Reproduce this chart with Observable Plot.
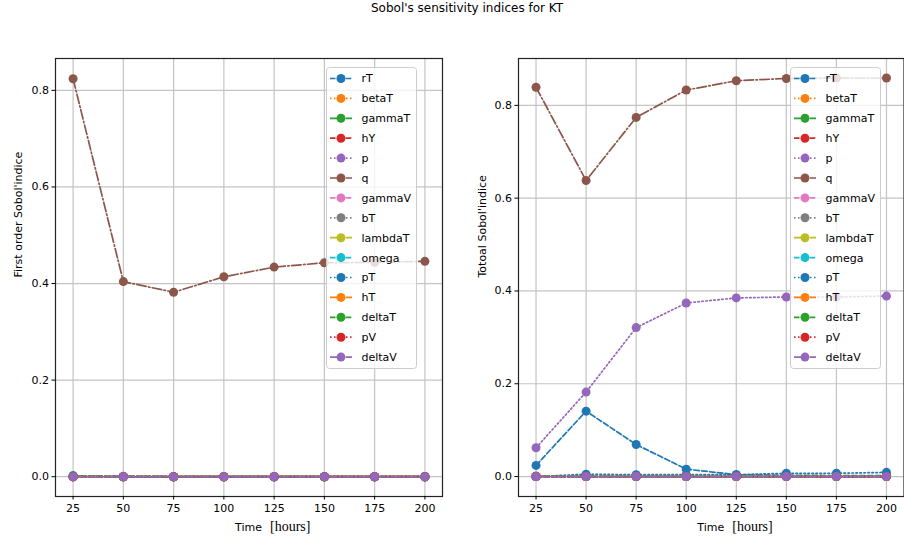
<!DOCTYPE html>
<html><head><meta charset="utf-8">
<script src="https://cdn.jsdelivr.net/npm/d3@7"></script>
<script src="https://cdn.jsdelivr.net/npm/@observablehq/plot@0.6"></script>
<style>
body{margin:0;background:#fff;}
#root{position:relative;width:904px;height:543px;overflow:hidden;font-family:"DejaVu Sans",sans-serif;}
#root > *{position:absolute;}
</style></head><body><div id="root"></div>
<script>
const titleText = "Sobol's sensitivity indices for KT";
const times = [25, 50, 75, 100, 125, 150, 175, 200];
const names = ["rT","betaT","gammaT","hY","p","q","gammaV","bT","lambdaT","omega","pT","hT","deltaT","pV","deltaV"];
const yTicks = [0, 0.2, 0.4, 0.6, 0.8];
const palette = ["#1f77b4","#ff7f0e","#2ca02c","#d62728","#9467bd","#8c564b","#e377c2","#7f7f7f","#bcbd22","#17becf"];

// First order indices, one row per parameter (same order as names)
const firstOrderValues = [
  [0.002, 0.001, 0, 0, 0, 0, 0, 0],
  [0, 0, 0, 0, 0, 0, 0, 0],
  [0.002, 0, 0, 0, 0, 0, 0, 0],
  [0, 0, 0, 0, 0, 0, 0, 0],
  [0.001, 0, 0, 0, 0, 0, 0, 0],
  [0.824, 0.404, 0.382, 0.414, 0.434, 0.443, 0.444, 0.446],
  [0, 0, 0, 0, 0, 0, 0, 0],
  [0, 0, 0, 0, 0, 0, 0, 0],
  [0, 0, 0, 0, 0, 0, 0, 0],
  [0, 0, 0, 0, 0, 0, 0, 0],
  [0, 0, 0, 0, 0, 0, 0, 0],
  [0, 0, 0, 0, 0, 0, 0, 0],
  [0.001, 0, 0, 0, 0, 0, 0, 0],
  [0, 0, 0, 0, 0, 0, 0, 0],
  [0, 0, 0, 0, 0, 0, 0, 0]
];
// Total indices
const totalValues = [
  [0.024, 0.141, 0.069, 0.016, 0.004, 0.003, 0.002, 0.002],
  [0, 0, 0, 0, 0, 0, 0, 0],
  [0.001, 0.001, 0.001, 0, 0, 0, 0, 0],
  [0, 0, 0, 0, 0, 0, 0, 0],
  [0.062, 0.182, 0.321, 0.374, 0.385, 0.387, 0.387, 0.389],
  [0.839, 0.638, 0.774, 0.833, 0.853, 0.858, 0.859, 0.859],
  [0, 0, 0, 0, 0, 0, 0, 0],
  [0, 0, 0, 0, 0, 0, 0, 0],
  [0, 0, 0, 0, 0, 0, 0, 0],
  [0, 0, 0, 0, 0, 0, 0, 0],
  [0, 0.005, 0.004, 0.004, 0.004, 0.007, 0.007, 0.009],
  [0, 0, 0, 0, 0, 0, 0, 0],
  [0, 0, 0, 0, 0, 0, 0, 0],
  [0, 0, 0, 0, 0, 0, 0, 0],
  [0, 0, 0, 0, 0, 0, 0, 0]
];

const dashes = ["5.5,2.4", "1.5,2.5", "9.6,2.4,1.5,2.4"];
const colorOf = i => palette[i % 10];
const dashOf = i => dashes[i % 3];

const root = document.getElementById("root");

function makePanel(values, yLabel, yDomain, left, width, marginLeft, marginRight, labelDx) {
  const marks = [
    Plot.gridX(times, {stroke: "#c4c4c4", strokeOpacity: 1, strokeWidth: 1.2}),
    Plot.gridY(yTicks, {stroke: "#c4c4c4", strokeOpacity: 1, strokeWidth: 1.2})
  ];
  names.forEach((n, i) => {
    const d = times.map((t, j) => ({t, v: values[i][j], name: n}));
    marks.push(Plot.line(d, {x: "t", y: "v", stroke: colorOf(i), strokeWidth: 1.7, strokeDasharray: dashOf(i)}));
    marks.push(Plot.dot(d, {x: "t", y: "v", fill: colorOf(i), r: 4.5}));
  });
  marks.push(Plot.frame({stroke: "#222", strokeWidth: 1.2}));
  marks.push(Plot.axisX({ticks: times, tickSize: 3.5, tickPadding: 4, label: null, fontSize: 11}));
  marks.push(Plot.axisY({ticks: yTicks, tickFormat: d3.format(".1f"), tickSize: 3.5, tickPadding: 3, label: null, fontSize: 11}));
  marks.push(Plot.text(["Time"], {frameAnchor: "bottom", textAnchor: "start", dx: -14, dy: 31, lineAnchor: "middle", fontSize: 11, fill: "#000"}));
  marks.push(Plot.text(["[hours]"], {frameAnchor: "bottom", textAnchor: "start", dx: 21, dy: 30, lineAnchor: "middle", fontSize: 14, fontFamily: "Liberation Serif", fill: "#000"}));
  marks.push(Plot.text([yLabel], {frameAnchor: "left", rotate: -90, dx: labelDx, fontSize: 11, fill: "#000"}));
  const svg = Plot.plot({
    width, height: 518,
    marginTop: 33, marginBottom: 47, marginLeft, marginRight,
    x: {domain: [16.25, 208.75]},
    y: {domain: yDomain},
    style: {fontFamily: "DejaVu Sans", fontSize: "11px", color: "#000", background: "transparent", overflow: "visible"},
    marks
  });
  svg.style.left = left + "px";
  svg.style.top = "25px";
  root.append(svg);
}

function makeLegend(left, top) {
  const w = 90, h = 301;
  const svg = d3.select(root).append("svg")
    .style("left", left + "px").style("top", top + "px")
    .attr("width", w + 2).attr("height", h + 2);
  svg.append("rect").attr("x", 0.5).attr("y", 0.5).attr("width", w).attr("height", h).attr("rx", 3)
    .attr("fill", "white").attr("fill-opacity", 0.8).attr("stroke", "#cccccc");
  names.forEach((n, i) => {
    const y = 11.5 + i * 19.9;
    svg.append("line").attr("x1", 4).attr("x2", 26).attr("y1", y).attr("y2", y)
      .attr("stroke", colorOf(i)).attr("stroke-width", 1.7).attr("stroke-dasharray", dashOf(i));
    svg.append("circle").attr("cx", 15).attr("cy", y).attr("r", 4.5).attr("fill", colorOf(i));
    svg.append("text").attr("x", 35.5).attr("y", y).attr("dy", "0.36em")
      .attr("font-family", "DejaVu Sans").attr("font-size", 11).attr("fill", "#000").text(n);
  });
}

makePanel(firstOrderValues, "First order Sobol'indice", [-0.041, 0.866], 0, 452, 55, 10, -37);
makePanel(totalValues, "Totoal Sobol'indice", [-0.043, 0.901], 460, 444, 58, 0.5, -36);
makeLegend(326, 67);
makeLegend(790, 67);

d3.select(root).append("div")
  .style("left", "0px").style("top", "0px").style("width", "934px").style("text-align", "center")
  .style("font-family", "DejaVu Sans").style("font-size", "12px").style("line-height", "16px")
  .text(titleText);
</script></body></html>
